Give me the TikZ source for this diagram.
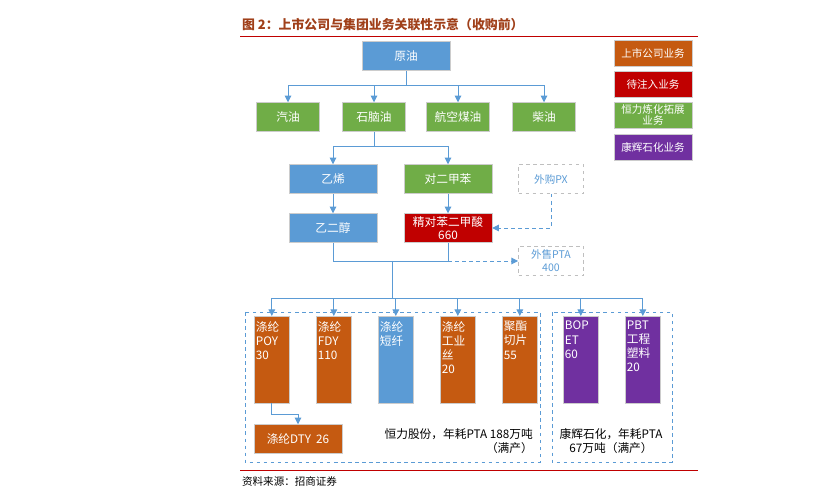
\documentclass[tikz,border=0pt]{standalone}
\usepackage{fontspec}
\setmainfont{Noto Sans CJK SC}
\usetikzlibrary{arrows.meta,positioning}
\definecolor{cBlue}{HTML}{5B9BD5}
\definecolor{cGreen}{HTML}{70AD47}
\definecolor{cOrange}{HTML}{C55A11}
\definecolor{cRed}{HTML}{C00000}
\definecolor{cPurple}{HTML}{7030A0}
\definecolor{cTitle}{HTML}{A0401A}
\newcommand{\bartext}[1]{\parbox[t][23mm][t]{9.5mm}{\raggedright #1}}
\begin{document}
\begin{tikzpicture}[
    x=0.3mm, y=-0.3mm,
    font=\fontsize{10}{12}\selectfont,
    flow/.style={-{Triangle[length=2mm,width=2mm]}, cBlue, thick},
    dflow/.style={flow, dashed},
    box/.style={draw=white!80!black, text=white, minimum width=26.4mm, minimum height=8.7mm, inner sep=1pt, align=center},
    wbox/.style={box, minimum width=19mm},
    bar/.style={draw=white!80!black, text=white, minimum width=10.5mm, minimum height=26mm, inner sep=1.5pt, anchor=north west},
    ext/.style={draw=gray!50, dashed, thick, text=cBlue, minimum width=19.5mm, minimum height=8.7mm, align=center, font=\fontsize{9}{11}\selectfont},
    legend/.style={box, minimum width=23.4mm, minimum height=7.8mm, font=\fontsize{9}{10}\selectfont}]

  \useasboundingbox (0,0) rectangle (815,500);
  % title and rules
  \node[anchor=west, text=cTitle, font=\bfseries\fontsize{11}{13}\selectfont] (title) at (238,25) {图 2：上市公司与集团业务关联性示意（收购前）};
  \draw[cRed, thick] (240,36) -- (698,36);
  \draw[cRed, thick] (240,470) -- (698,470);
  \node[anchor=west, font=\fontsize{9}{10}\selectfont] (source) at (238,481) {资料来源：招商证券};

  % legend
  \node[legend, fill=cOrange] (legOrange) at (653,53) {上市公司业务};
  \node[legend, fill=cRed] (legRed) at (653,84) {待注入业务};
  \node[legend, fill=cGreen] (legGreen) at (653,115) {恒力炼化拓展\\业务};
  \node[legend, fill=cPurple] (legPurple) at (653,147) {康辉石化业务};

  % refinery
  \node[box, fill=cBlue] (crude) at (406,56) {原油};
  \node[wbox, fill=cGreen] (gasoline) at (288,117) {汽油};
  \node[wbox, fill=cGreen] (naphtha) at (374,117) {石脑油};
  \node[wbox, fill=cGreen] (kerosene) at (458,117) {航空煤油};
  \node[wbox, fill=cGreen] (diesel) at (544,117) {柴油};
  \node[box, fill=cBlue] (ethylene) at (333,179) {乙烯};
  \node[box, fill=cGreen] (px) at (448,179) {对二甲苯};
  \node[box, fill=cBlue] (meg) at (333,228) {乙二醇};
  \node[box, fill=cRed, align=center, font=\fontsize{10}{11}\selectfont] (pta) at (448,228) {精对苯二甲酸\\660};
  \node[ext] (buyPX) at (551,179) {外购PX};
  \node[ext] (sellPTA) at (551,261) {外售PTA\\400};

  \coordinate (crudeFork) at (406,85);
  \coordinate (naphthaFork) at (374,146);
  \coordinate (polyFork) at (392,298);
  \coordinate (megJoin) at (333,261);
  \coordinate (ptaJoin) at (448,261);

  \draw[cBlue, thick] (crude) -- (crudeFork);
  \foreach \n in {gasoline,naphtha,kerosene,diesel}
    \draw[flow] (crudeFork) -| (\n);
  \draw[cBlue, thick] (naphtha) -- (naphthaFork);
  \draw[flow] (naphthaFork) -| (ethylene);
  \draw[flow] (naphthaFork) -| (px);
  \draw[flow] (ethylene) -- (meg);
  \draw[flow] (px) -- (pta);
  \draw[dflow] (buyPX) |- (pta);
  \draw[cBlue, thick] (meg) -- (megJoin) -- (ptaJoin) -- (pta);
  \draw[dflow] (ptaJoin) -- (sellPTA);
  \draw[cBlue, thick] (392,261) -- (polyFork);

  % downstream
  \draw[cBlue, thick, dashed] (245,312) rectangle (540,462);
  \draw[cBlue, thick, dashed] (552,312) rectangle (672,462);
  \node[bar, fill=cOrange] (poy) at (254,316) {\bartext{涤纶\\POY\\30}};
  \node[bar, fill=cOrange] (fdy) at (316,316) {\bartext{涤纶\\FDY\\110}};
  \node[bar, fill=cBlue] (psf) at (378,316) {\bartext{涤纶\\短纤}};
  \node[bar, fill=cOrange] (ify) at (440,316) {\bartext{涤纶\\工业\\丝\\20}};
  \node[bar, fill=cOrange] (chip) at (502,316) {\bartext{聚酯\\切片\\55}};
  \node[bar, fill=cPurple] (bopet) at (563,316) {\bartext{BOP\\ET\\60}};
  \node[bar, fill=cPurple] (pbt) at (625,316) {\bartext{PBT\\工程\\塑料\\20}};
  \foreach \n in {poy,fdy,psf,ify,chip,bopet,pbt}
    \draw[flow] (polyFork) -| (\n.north);
  \node[box, fill=cOrange, minimum width=26.4mm] (dty) at (298,439) {涤纶DTY\ \ 26};
  \draw[flow] (poy.south) |- (298,414) -- (dty);
  \node[anchor=east, align=right] (hengli) at (537,441) {恒力股份，年耗PTA 188万吨\\（满产）};
  \node[align=center] (kanghui) at (611,441) {康辉石化，年耗PTA\\67万吨（满产）};

\end{tikzpicture}
\end{document}
